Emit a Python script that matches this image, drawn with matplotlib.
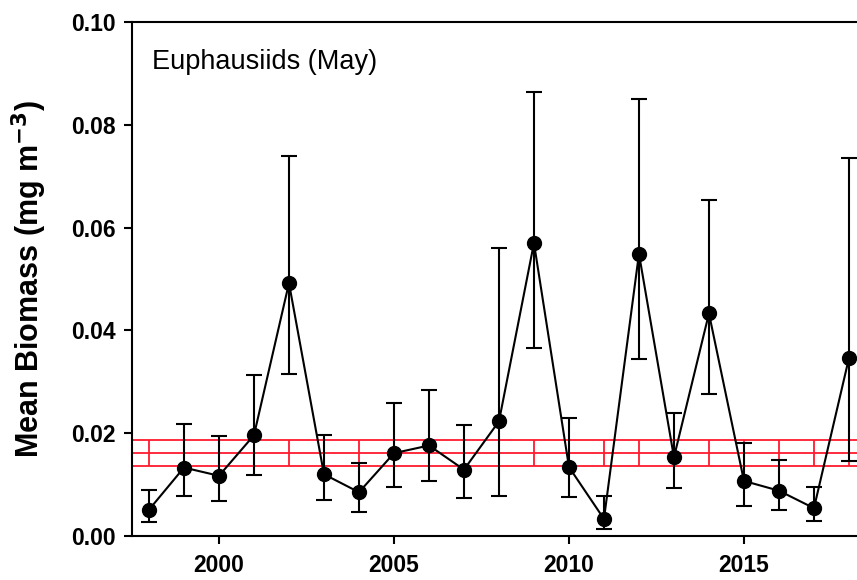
import matplotlib
matplotlib.use("Agg")
import matplotlib.pyplot as plt
import numpy as np

plt.rcParams['font.family'] = ['Liberation Sans', 'DejaVu Sans']

years = [1998, 1999, 2000, 2001, 2002, 2003, 2004, 2005, 2006, 2007, 2008,
         2009, 2010, 2011, 2012, 2013, 2014, 2015, 2016, 2017, 2018]
biomass = [0.0051, 0.0133, 0.0117, 0.0196, 0.0492, 0.0120, 0.0085, 0.0161,
           0.0176, 0.0129, 0.0223, 0.0570, 0.0134, 0.0033, 0.0549, 0.0153,
           0.0433, 0.0107, 0.0088, 0.0054, 0.0346]
upper = [0.0089, 0.0218, 0.0195, 0.0313, 0.0739, 0.0197, 0.0142, 0.0258,
         0.0284, 0.0215, 0.0561, 0.0863, 0.0230, 0.0077, 0.0850, 0.0240,
         0.0654, 0.0180, 0.0148, 0.0095, 0.0736]
lower = [0.0027, 0.0078, 0.0068, 0.0119, 0.0316, 0.0070, 0.0047, 0.0095,
         0.0106, 0.0074, 0.0077, 0.0365, 0.0076, 0.0013, 0.0344, 0.0094,
         0.0277, 0.0059, 0.0051, 0.0030, 0.0146]

ref_mean = 0.0161
ref_upper = 0.0186
ref_lower = 0.0137

yticks = [0.00, 0.02, 0.04, 0.06, 0.08, 0.10]
xticks = [2000, 2005, 2010, 2015]

fig = plt.figure(figsize=(8.57, 5.80), dpi=100)
ax = fig.add_axes([0.154, 0.076, 0.846, 0.886])

b = np.array(biomass)
yerr = [b - np.array(lower), np.array(upper) - b]

red = '#ff1a2e'
x_ext = [1997.5, 2018.3]
for v in (ref_mean, ref_upper, ref_lower):
    ax.plot(x_ext, [v, v], color=red, lw=1.3, zorder=1)
ax.vlines(years, ref_lower, ref_upper, color=red, lw=1.3, zorder=1)

ax.errorbar(years, biomass, yerr=yerr, fmt='-o', color='black', ms=10,
            lw=1.5, elinewidth=1.5, capsize=6, capthick=1.5, zorder=3)

ax.set_xlim(1997.514, 2018.23)
ax.set_ylim(0, 0.10)
ax.set_xticks(xticks)
ax.set_yticks(yticks)
ax.set_yticklabels([f"{t:.2f}" for t in yticks])
ax.tick_params(direction='out', length=6, width=1.5, labelsize=16.5)
for lab in ax.get_xticklabels() + ax.get_yticklabels():
    lab.set_fontweight('bold')
ax.tick_params(axis='x', pad=7)
ax.tick_params(axis='y', pad=6)

for s in ('left', 'bottom', 'top'):
    ax.spines[s].set_linewidth(1.5)
ax.spines['right'].set_visible(False)

ax.set_ylabel('Mean Biomass (mg m$^{\\mathbf{-3}}$)', fontsize=22,
              fontweight='bold')
ax.yaxis.set_label_coords(-0.115, 0.5)

ax.text(152 / 100, (580 - 62) / 100, 'Euphausiids (May)',
        transform=fig.dpi_scale_trans, fontsize=19.5, va='center', ha='left')

fig.savefig('out.png', dpi=100)
